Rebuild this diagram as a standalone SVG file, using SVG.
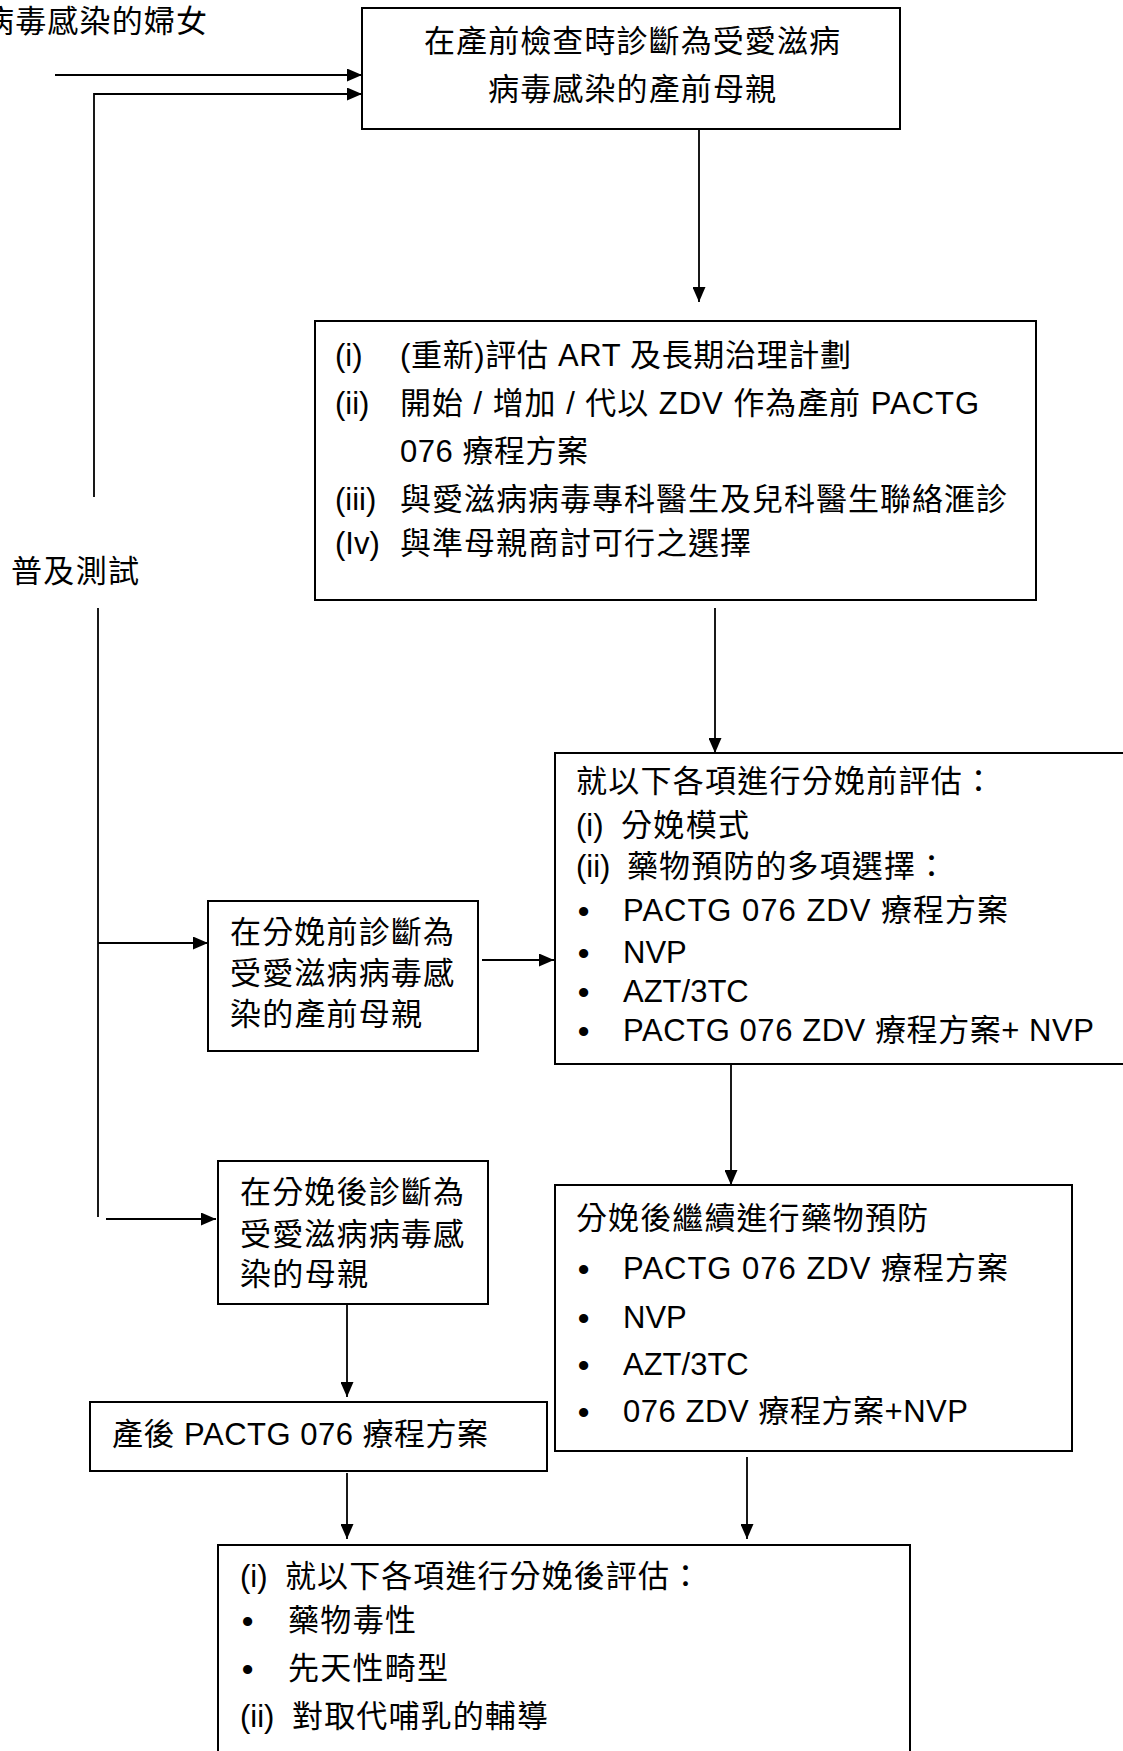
<svg xmlns="http://www.w3.org/2000/svg" width="1123" height="1751" viewBox="0 0 1123 1751">
<style>
.box{fill:#fff;stroke:#000;stroke-width:2}
.ln{fill:none;stroke:#000;stroke-width:1.8}
.arr{marker-end:url(#ah)}
text{font-family:"Liberation Sans","Noto Sans CJK TC",sans-serif;font-size:31px;fill:#000}
text.b{font-size:32px;font-weight:bold}
</style>
<defs>
<marker id="ah" markerUnits="userSpaceOnUse" markerWidth="15" markerHeight="13" refX="15" refY="6.5" orient="auto">
<path d="M0,0 L15,6.5 L0,13 Z" fill="#000"/>
</marker>
</defs>
<rect width="1123" height="1751" fill="#fff"/>

<g id="connectors">
<path class="ln arr" d="M55,75 H362"/>
<path class="ln arr" d="M94,497 V94 H362"/>
<path class="ln arr" d="M699,129 V302"/>
<path class="ln arr" d="M715,608 V753"/>
<path class="ln" d="M98,608 V1217"/>
<path class="ln arr" d="M98,943 H208"/>
<path class="ln arr" d="M482,960 H554"/>
<path class="ln arr" d="M731,1064 V1185"/>
<path class="ln arr" d="M106,1219 H216"/>
<path class="ln arr" d="M347,1304 V1397"/>
<path class="ln arr" d="M347,1473 V1539"/>
<path class="ln arr" d="M747,1457 V1539"/>
</g>

<g id="label-women">
<text x="-17" y="32" textLength="224" lengthAdjust="spacing">病毒感染的婦女</text>
</g>

<g id="label-screening">
<text x="11" y="582" textLength="128" lengthAdjust="spacing">普及測試</text>
</g>

<g id="node-antenatal">
<rect class="box" x="362" y="8" width="538" height="121"/>
<text x="424" y="52" textLength="416" lengthAdjust="spacing">在產前檢查時診斷為受愛滋病</text>
<text x="488" y="100" textLength="288" lengthAdjust="spacing">病毒感染的產前母親</text>
</g>

<g id="node-assess">
<rect class="box" x="315" y="321" width="721" height="279"/>
<text x="335" y="366">(i)</text>
<text x="400" y="366" textLength="451" lengthAdjust="spacing">(重新)評估 ART 及長期治理計劃</text>
<text x="335" y="414">(ii)</text>
<text x="400" y="414" textLength="579" lengthAdjust="spacing">開始 / 增加 / 代以 ZDV 作為產前 PACTG</text>
<text x="400" y="462" textLength="188" lengthAdjust="spacing">076 療程方案</text>
<text x="335" y="510">(iii)</text>
<text x="400" y="510" textLength="607" lengthAdjust="spacing">與愛滋病病毒專科醫生及兒科醫生聯絡滙診</text>
<text x="335" y="554">(Iv)</text>
<text x="400" y="554" textLength="351" lengthAdjust="spacing">與準母親商討可行之選擇</text>
</g>

<g id="node-prelabour">
<rect class="box" x="555" y="753" width="580" height="311"/>
<text x="576" y="792" textLength="418" lengthAdjust="spacing">就以下各項進行分娩前評估：</text>
<text x="576" y="836">(i)</text>
<text x="621" y="836" textLength="128" lengthAdjust="spacing">分娩模式</text>
<text x="576" y="877">(ii)</text>
<text x="627" y="877" textLength="320" lengthAdjust="spacing">藥物預防的多項選擇：</text>
<text class="b" x="578" y="922">•</text>
<text x="623" y="921" textLength="385" lengthAdjust="spacing">PACTG 076 ZDV  療程方案</text>
<text class="b" x="578" y="964">•</text>
<text x="623" y="963">NVP</text>
<text class="b" x="578" y="1003">•</text>
<text x="623" y="1002">AZT/3TC</text>
<text class="b" x="578" y="1042">•</text>
<text x="623" y="1041" textLength="471" lengthAdjust="spacing">PACTG 076 ZDV 療程方案+ NVP</text>
</g>

<g id="node-diag-before-labour">
<rect class="box" x="208" y="901" width="270" height="150"/>
<text x="230" y="943" textLength="224" lengthAdjust="spacing">在分娩前診斷為</text>
<text x="230" y="984" textLength="224" lengthAdjust="spacing">受愛滋病病毒感</text>
<text x="230" y="1025" textLength="192" lengthAdjust="spacing">染的產前母親</text>
</g>

<g id="node-diag-after-labour">
<rect class="box" x="218" y="1161" width="270" height="143"/>
<text x="240" y="1203" textLength="224" lengthAdjust="spacing">在分娩後診斷為</text>
<text x="240" y="1245" textLength="224" lengthAdjust="spacing">受愛滋病病毒感</text>
<text x="240" y="1285" textLength="128" lengthAdjust="spacing">染的母親</text>
</g>

<g id="node-postpartum-pactg">
<rect class="box" x="90" y="1402" width="457" height="69"/>
<text x="112" y="1445" textLength="376" lengthAdjust="spacing">產後 PACTG 076 療程方案</text>
</g>

<g id="node-postlabour-continue">
<rect class="box" x="555" y="1185" width="517" height="266"/>
<text x="576" y="1229" textLength="352" lengthAdjust="spacing">分娩後繼續進行藥物預防</text>
<text class="b" x="578" y="1280">•</text>
<text x="623" y="1279" textLength="385" lengthAdjust="spacing">PACTG 076 ZDV  療程方案</text>
<text class="b" x="578" y="1329">•</text>
<text x="623" y="1328">NVP</text>
<text class="b" x="578" y="1376">•</text>
<text x="623" y="1375">AZT/3TC</text>
<text class="b" x="578" y="1423">•</text>
<text x="623" y="1422" textLength="345" lengthAdjust="spacing">076 ZDV 療程方案+NVP</text>
</g>

<g id="node-postlabour-assess">
<rect class="box" x="218" y="1545" width="692" height="220"/>
<text x="240" y="1587">(i)</text>
<text x="285" y="1587" textLength="416" lengthAdjust="spacing">就以下各項進行分娩後評估：</text>
<text class="b" x="242" y="1632">•</text>
<text x="288" y="1631" textLength="128" lengthAdjust="spacing">藥物毒性</text>
<text class="b" x="242" y="1680">•</text>
<text x="288" y="1679" textLength="160" lengthAdjust="spacing">先天性畸型</text>
<text x="240" y="1727">(ii)</text>
<text x="292" y="1727" textLength="256" lengthAdjust="spacing">對取代哺乳的輔導</text>
</g>
</svg>
